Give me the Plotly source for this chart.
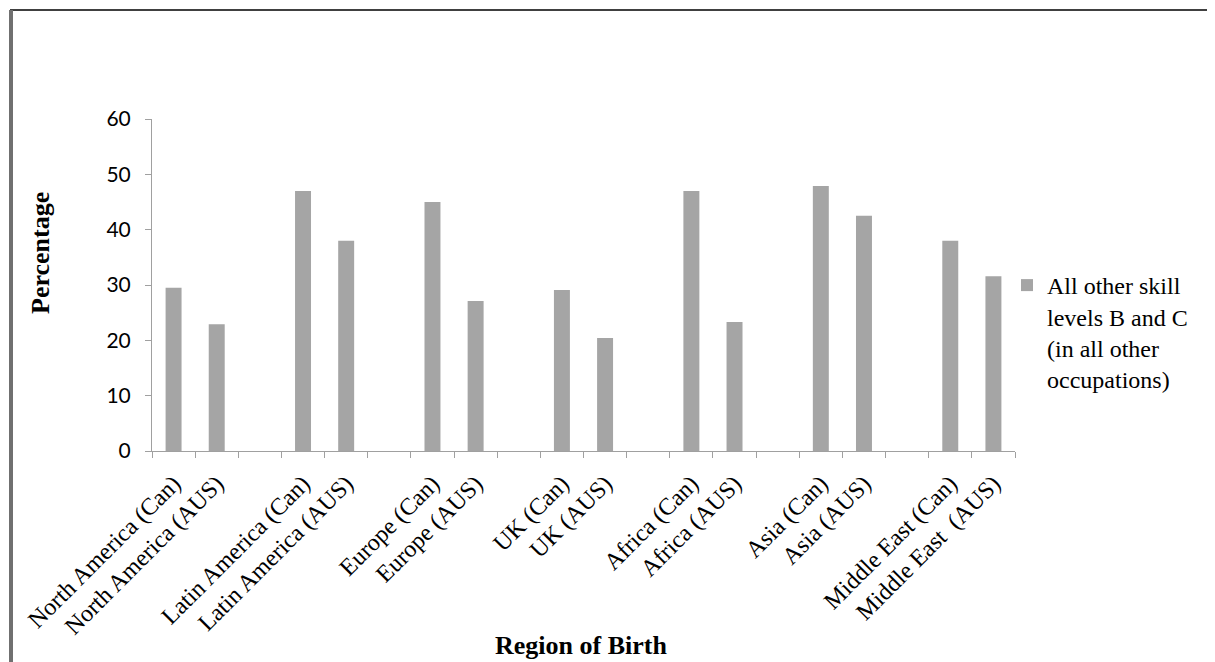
import plotly.graph_objects as go

categories = ["North America (Can)", "North America (AUS)", " ",
              "Latin America (Can)", "Latin America (AUS)", "  ",
              "Europe (Can)", "Europe (AUS)", "   ",
              "UK (Can)", "UK (AUS)", "    ",
              "Africa (Can)", "Africa (AUS)", "     ",
              "Asia (Can)", "Asia (AUS)", "      ",
              "Middle East (Can)", "Middle East  (AUS)"]
values = [29.5, 22.9, None,
          47.0, 38.0, None,
          45.0, 27.1, None,
          29.1, 20.4, None,
          47.0, 23.3, None,
          47.9, 42.5, None,
          38.0, 31.6]
series_name = "All other skill<br>levels B and C<br>(in all other<br>occupations)"
y_ticks = [0, 10, 20, 30, 40, 50, 60]

OFF = 8  # default body margin of the page
W, H = 1215 - OFF, 662 - OFF
L, R, T, B = 152, 1015, 119, 451  # target pixel positions in the window

def px(x):
    return (x - L) / (R - L)

def py(y):
    return (B - y) / (B - T)

fig = go.Figure()
fig.add_trace(go.Bar(x=categories, y=values, name=series_name,
                     marker=dict(color="#a5a5a5", line=dict(width=0)),
                     showlegend=True))

fig.update_layout(
    width=W, height=H,
    margin=dict(l=L - OFF, r=(1215 - R), t=T - OFF, b=(662 - B), autoexpand=False),
    paper_bgcolor="white", plot_bgcolor="white",
    bargap=0.63,
    showlegend=True,
    legend=dict(x=px(1007), y=py(263), xanchor="left", yanchor="top", valign="top",
                font=dict(family="Liberation Serif", size=24, color="black"),
                itemwidth=30, tracegroupgap=0, bgcolor="rgba(0,0,0,0)"),
    xaxis=dict(type="category", categoryorder="array", categoryarray=categories,
               tickangle=-45, tickson="boundaries", ticks="outside", ticklen=6,
               ticklabelstandoff=8,
               tickcolor="#a0a0a0", showline=True, linecolor="#a0a0a0", linewidth=1,
               tickfont=dict(family="Liberation Serif", size=24, color="black"),
               showgrid=False, zeroline=False),
    yaxis=dict(range=[0, 60], tickvals=y_ticks, ticks="outside", ticklen=6,
               ticklabelstandoff=10,
               tickcolor="#a0a0a0", showline=True, linecolor="#a0a0a0", linewidth=1,
               tickfont=dict(family="Lato", size=21, color="black"),
               showgrid=False, zeroline=False),
    annotations=[
        dict(text="<b>Region of Birth</b>", x=px(581), y=py(645), xref="paper", yref="paper",
             xanchor="center", yanchor="middle",
             showarrow=False, font=dict(family="Liberation Serif", size=26, color="black")),
        dict(text="<b>Percentage</b>", x=px(40), y=py(253), xref="paper", yref="paper",
             xanchor="center", yanchor="middle",
             showarrow=False, textangle=-90,
             font=dict(family="Liberation Serif", size=26, color="black")),
    ],
    shapes=[
        dict(type="rect", xref="paper", yref="paper",
             x0=px(11), x1=px(1210), y0=py(700), y1=py(10),
             line=dict(color="#404040", width=2), fillcolor="rgba(0,0,0,0)", layer="below"),
        dict(type="line", xref="paper", yref="paper",
             x0=px(11), x1=px(11), y0=py(700), y1=py(10),
             line=dict(color="#707070", width=4)),
    ],
)

fig.write_html("out.html")
